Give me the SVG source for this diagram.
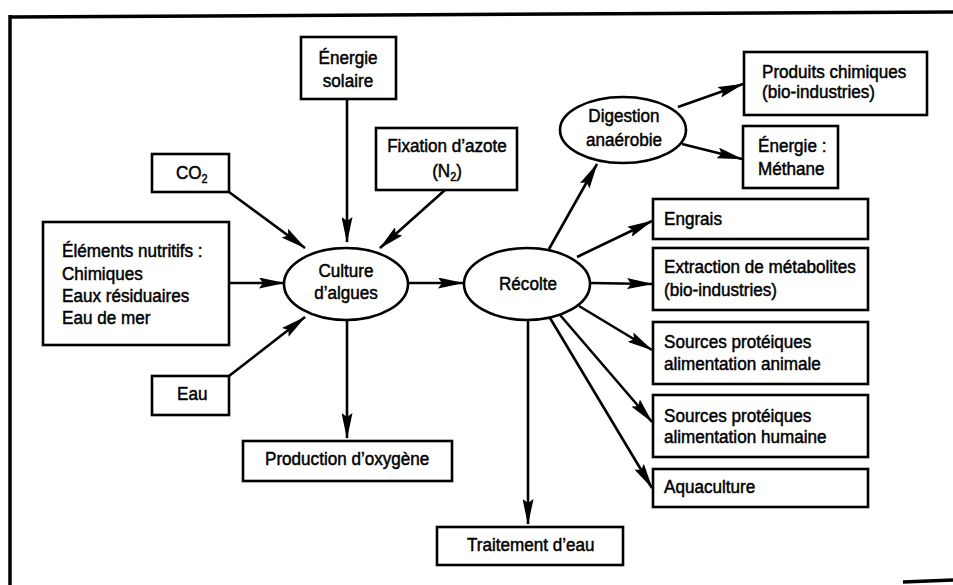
<svg xmlns="http://www.w3.org/2000/svg" width="953" height="585" viewBox="0 0 953 585">
<defs>
<marker id="ah" viewBox="0 0 26 11" refX="25" refY="5.5" markerWidth="26" markerHeight="11" markerUnits="userSpaceOnUse" orient="auto">
<path d="M0,0 L26,5.5 L0,11 L4,5.5 z" fill="#000"/>
</marker>
</defs>
<style>
.box{fill:#fff;stroke:#000;stroke-width:2.6}
.ell{fill:#fff;stroke:#000;stroke-width:2.6}
.t{font-family:"Liberation Sans",Arial,sans-serif;font-size:19px;fill:#000;stroke:#000;stroke-width:0.5;transform-box:fill-box;transform:scaleX(0.9);transform-origin:0% 50%}
.c{text-anchor:middle;transform-origin:50% 50%}
.sub{font-size:12px}
.con line{stroke:#000;stroke-width:2.6;fill:none;marker-end:url(#ah)}
.frame{stroke:#000;stroke-width:3.5;fill:none}
</style>
<rect width="953" height="585" fill="#fff"/>
<g id="frame">
<line class="frame" x1="10" y1="17" x2="953" y2="12"/>
<line class="frame" x1="10" y1="15" x2="10" y2="585"/>
<line class="frame" x1="903" y1="582" x2="953" y2="580"/>
</g>
<g class="con" id="connectors">
<line x1="347" y1="99" x2="347" y2="242"/>
<line x1="229" y1="192" x2="305" y2="248"/>
<line x1="445" y1="190" x2="380" y2="248"/>
<line x1="229" y1="283" x2="284" y2="283"/>
<line x1="229" y1="376" x2="305" y2="317"/>
<line x1="407" y1="283" x2="463" y2="283"/>
<line x1="347" y1="320" x2="347" y2="438"/>
<line x1="528" y1="320" x2="528" y2="524"/>
<line x1="549" y1="249" x2="597" y2="164"/>
<line x1="678" y1="107" x2="743" y2="84"/>
<line x1="682" y1="144" x2="742" y2="159"/>
<line x1="577" y1="257" x2="652" y2="221"/>
<line x1="590" y1="283" x2="652" y2="284"/>
<line x1="579" y1="306" x2="652" y2="350"/>
<line x1="560" y1="315" x2="652" y2="422"/>
<line x1="550" y1="318" x2="652" y2="488"/>
</g>
<g id="energie-solaire"><rect class="box" x="301" y="37" width="95" height="62"/>
<text class="t c" x="348" y="64">Énergie</text><text class="t c" x="348" y="87">solaire</text></g>
<g id="co2"><rect class="box" x="152" y="154" width="77" height="38"/>
<text class="t" x="176" y="179">CO<tspan class="sub" dy="4">2</tspan></text></g>
<g id="fixation"><rect class="box" x="376" y="128" width="141" height="62"/>
<text class="t c" x="447" y="152">Fixation d’azote</text><text class="t c" x="447" y="177">(N<tspan class="sub" dy="4">2</tspan><tspan dy="-4">)</tspan></text></g>
<g id="elements"><rect class="box" x="43" y="222" width="186" height="123"/>
<text class="t" x="62" y="257">Éléments nutritifs :</text>
<text class="t" x="62" y="280">Chimiques</text>
<text class="t" x="62" y="302">Eaux résiduaires</text>
<text class="t" x="62" y="324">Eau de mer</text></g>
<g id="eau"><rect class="box" x="152" y="376" width="77" height="39"/>
<text class="t" x="177" y="400">Eau</text></g>
<g id="culture"><ellipse class="ell" cx="346" cy="284" rx="62" ry="36"/>
<text class="t c" x="346" y="277">Culture</text><text class="t c" x="346" y="299">d’algues</text></g>
<g id="oxygene"><rect class="box" x="243" y="441" width="209" height="40"/>
<text class="t" x="265" y="465">Production d’oxygène</text></g>
<g id="recolte"><ellipse class="ell" cx="527" cy="284" rx="63" ry="36"/>
<text class="t c" x="528" y="290">Récolte</text></g>
<g id="traitement"><rect class="box" x="437" y="527" width="186" height="38"/>
<text class="t" x="467" y="551">Traitement d’eau</text></g>
<g id="digestion"><ellipse class="ell" cx="623" cy="130" rx="63" ry="33"/>
<text class="t c" x="624" y="122">Digestion</text><text class="t c" x="624" y="146">anaérobie</text></g>
<g id="produits"><rect class="box" x="744" y="52" width="183" height="63"/>
<text class="t" x="762" y="78">Produits chimiques</text><text class="t" x="762" y="98">(bio-industries)</text></g>
<g id="methane"><rect class="box" x="743" y="126" width="95" height="62"/>
<text class="t" x="758" y="152">Énergie :</text><text class="t" x="758" y="175">Méthane</text></g>
<g id="engrais"><rect class="box" x="653" y="199" width="215" height="40"/>
<text class="t" x="664" y="225">Engrais</text></g>
<g id="extraction"><rect class="box" x="653" y="248" width="215" height="62"/>
<text class="t" x="664" y="273">Extraction de métabolites</text><text class="t" x="664" y="296">(bio-industries)</text></g>
<g id="animale"><rect class="box" x="653" y="322" width="215" height="62"/>
<text class="t" x="664" y="348">Sources protéiques</text><text class="t" x="664" y="370">alimentation animale</text></g>
<g id="humaine"><rect class="box" x="653" y="395" width="215" height="62"/>
<text class="t" x="664" y="422">Sources protéiques</text><text class="t" x="664" y="443">alimentation humaine</text></g>
<g id="aquaculture"><rect class="box" x="653" y="469" width="215" height="38"/>
<text class="t" x="664" y="493">Aquaculture</text></g>
</svg>
